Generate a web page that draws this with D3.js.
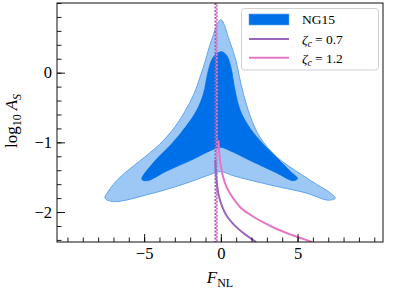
<!DOCTYPE html>
<html>
<head>
<meta charset="utf-8">
<script src="https://cdn.jsdelivr.net/npm/d3@7"></script>
<style>
  body { margin: 0; background: #fff; }
  svg text { font-family: "Liberation Serif", "DejaVu Serif", serif; fill: #000; }
</style>
</head>
<body>
<div id="chart"></div>
<script>
"use strict";

/*** Data */
/* outer (95%) NG15 region, [F_NL, log10 A_S], clockwise from the top */
const outerF = [0.0, 0.56, 0.98, 1.2, 1.47, 1.91, 2.56, 3.65, 5.17, 6.3, 7.1, 7.46, 7.0, 5.61, 3.0, 0.82, 0.0, -0.91, -2.44, -4.61, -7.0, -7.55, -7.33, -6.57, -5.3, -4.0, -3.0, -2.3, -1.74, -1.35, -1.0, -0.62];
const outerA = [0.76, 0.46, 0.18, -0.05, -0.30, -0.62, -0.93, -1.21, -1.45, -1.61, -1.72, -1.80, -1.83, -1.73, -1.60, -1.48, -1.42, -1.48, -1.60, -1.74, -1.85, -1.80, -1.70, -1.50, -1.27, -1.03, -0.78, -0.54, -0.30, -0.06, 0.18, 0.46];

/* inner (68%) NG15 region */
const innerF = [0.07, 0.4, 0.65, 0.93, 1.26, 1.91, 2.78, 3.87, 4.6, 5.0, 4.7, 3.65, 1.91, 0.61, -0.05, -0.70, -1.79, -3.52, -4.8, -5.15, -4.35, -3.2, -2.3, -1.57, -1.13, -0.85, -0.6, -0.3];
const innerA = [0.30, 0.24, 0.08, -0.26, -0.54, -0.80, -1.03, -1.27, -1.43, -1.52, -1.55, -1.44, -1.26, -1.12, -1.07, -1.12, -1.24, -1.41, -1.55, -1.53, -1.28, -1.02, -0.78, -0.54, -0.30, 0.0, 0.18, 0.27];

/* zeta_c = 0.7 */
const purpleF = [-0.36, -0.3, -0.15, 0.1, 0.4, 0.85, 1.4, 2.3];
const purpleA = [-1.25, -1.5, -1.75, -1.93, -2.06, -2.18, -2.29, -2.43];

/* zeta_c = 1.2 */
const pinkF = [-0.16, -0.1, -0.02, 0.15, 0.39, 0.8, 1.26, 2.0, 2.78, 3.6, 4.52, 5.3, 5.93];
const pinkA = [-0.97, -1.15, -1.31, -1.5, -1.65, -1.8, -1.93, -2.05, -2.15, -2.24, -2.32, -2.38, -2.43];

/* vertical dotted lines */
const vlineF = [-0.35, -0.26];

/* ticks */
const xMajor = [-5, 0, 5];
const xMinor = d3.range(-10, 11, 1);
const yMajor = [-2, -1, 0];
const yMinor = d3.range(-24, 11, 2).map(d => d / 10);

const legendLabels = ["NG15", "0.7", "1.2"];

/*** Layout */
const w = 414;
const h = 290;
const mLeft = 57, mRight = 383, mTop = 3, mBottom = 242;

const colLight = "#9dc7f4";
const colEdge = "#62a5ee";
const colDark = "#0070e8";
const colPurple = "#9467bd";
const colPink = "#e377c2";

const x = d3.scaleLinear().domain([-10.68, 10.57]).range([mLeft, mRight]);
const y = d3.scaleLinear().domain([-2.43, 1.0]).range([mBottom, mTop]);

const fmt = d => (d < 0 ? "\u2212" + Math.abs(d) : String(d));

const svg = d3.select("#chart")
    .append("svg")
    .attr("width", w)
    .attr("height", h);

svg.append("defs").append("clipPath")
    .attr("id", "plotclip")
    .append("rect")
    .attr("x", mLeft).attr("y", mTop)
    .attr("width", mRight - mLeft).attr("height", mBottom - mTop);

const plot = svg.append("g").attr("clip-path", "url(#plotclip)");

const toPts = (fs, as) => fs.map((f, i) => [f, as[i]]);

const area = d3.line()
    .x(d => x(d[0]))
    .y(d => y(d[1]))
    .curve(d3.curveCatmullRomClosed.alpha(0.5));

const line = d3.line()
    .x(d => x(d[0]))
    .y(d => y(d[1]))
    .curve(d3.curveCatmullRom.alpha(0.5));

/** contours */
plot.append("path")
    .attr("d", area(toPts(outerF, outerA)))
    .attr("fill", colLight)
    .attr("stroke", colEdge)
    .attr("stroke-width", 1);

plot.append("path")
    .attr("d", area(toPts(innerF, innerA)))
    .attr("fill", colDark)
    .attr("stroke", colDark)
    .attr("stroke-width", 0.8);

/** dotted verticals */
plot.selectAll(".vline")
    .data(vlineF)
    .enter()
    .append("line")
    .attr("class", "vline")
    .attr("x1", d => x(d)).attr("x2", d => x(d))
    .attr("y1", mTop).attr("y2", mBottom)
    .attr("stroke", (d, i) => i === 0 ? colPurple : colPink)
    .attr("stroke-width", 2)
    .attr("stroke-dasharray", "2,1.5")
    .attr("stroke-dashoffset", (d, i) => i * 1.7);

/** curves */
plot.append("path")
    .attr("d", line(toPts(purpleF, purpleA)))
    .attr("fill", "none")
    .attr("stroke", colPurple)
    .attr("stroke-width", 2);

plot.append("path")
    .attr("d", line(toPts(pinkF, pinkA)))
    .attr("fill", "none")
    .attr("stroke", colPink)
    .attr("stroke-width", 2);

/** axes (ticks pointing in) */
const styleAxis = g => {
    g.select(".domain").remove();
    g.selectAll("line").attr("stroke", "#000").attr("stroke-width", 0.9);
    g.selectAll("text").style("font-size", "16.5px").attr("font-family", "Liberation Serif, serif");
};

svg.append("g")
    .attr("transform", "translate(0," + mBottom + ")")
    .call(d3.axisBottom(x).tickValues(xMinor).tickSize(-4.5).tickFormat(""))
    .call(styleAxis);

svg.append("g")
    .attr("transform", "translate(0," + mBottom + ")")
    .call(d3.axisBottom(x).tickValues(xMajor).tickSize(-8).tickPadding(5).tickFormat(fmt))
    .call(styleAxis);

svg.append("g")
    .attr("transform", "translate(" + mLeft + ",0)")
    .call(d3.axisLeft(y).tickValues(yMinor).tickSize(-4.5).tickFormat(""))
    .call(styleAxis);

svg.append("g")
    .attr("transform", "translate(" + mLeft + ",0)")
    .call(d3.axisLeft(y).tickValues(yMajor).tickSize(-8).tickPadding(5).tickFormat(fmt))
    .call(styleAxis);

/** frame */
svg.append("rect")
    .attr("x", mLeft).attr("y", mTop)
    .attr("width", mRight - mLeft).attr("height", mBottom - mTop)
    .attr("fill", "none")
    .attr("stroke", "#111")
    .attr("stroke-width", 1);

/** axis labels */
const xl = svg.append("text")
    .attr("x", 220).attr("y", 283)
    .attr("text-anchor", "middle")
    .style("font-size", "17px");
xl.append("tspan").attr("font-style", "italic").text("F");
xl.append("tspan").attr("dy", 4).style("font-size", "12px").text("NL");

const yl = svg.append("text")
    .attr("transform", "translate(17,121) rotate(-90)")
    .attr("text-anchor", "middle")
    .style("font-size", "17px");
yl.append("tspan").text("log");
yl.append("tspan").attr("dy", 4).style("font-size", "12px").text("10");
yl.append("tspan").attr("dy", -4).attr("dx", 4).attr("font-style", "italic").text("A");
yl.append("tspan").attr("dy", 4).style("font-size", "12px").attr("font-style", "italic").text("S");

/** legend */
const lg = svg.append("g");
lg.append("rect")
    .attr("x", 241.5).attr("y", 8.5)
    .attr("width", 137).attr("height", 61.5)
    .attr("rx", 3)
    .attr("fill", "#fff").attr("fill-opacity", 0.85)
    .attr("stroke", "#d0d0d0").attr("stroke-width", 1);

lg.append("rect")
    .attr("x", 249).attr("y", 14)
    .attr("width", 40).attr("height", 11)
    .attr("fill", colDark)
    .attr("stroke", colEdge).attr("stroke-width", 0.6);

lg.append("text")
    .attr("x", 302).attr("y", 24)
    .style("font-size", "13.5px")
    .text(legendLabels[0]);

[[colPurple, 39, 44.3, legendLabels[1]], [colPink, 57.7, 63, legendLabels[2]]].forEach(d => {
    lg.append("line")
        .attr("x1", 249).attr("x2", 289)
        .attr("y1", d[1]).attr("y2", d[1])
        .attr("stroke", d[0]).attr("stroke-width", 2);
    const t = lg.append("text")
        .attr("x", 302).attr("y", d[2])
        .style("font-size", "13.5px");
    t.append("tspan").attr("font-style", "italic").text("\u03B6");
    t.append("tspan").attr("dy", 3).attr("font-style", "italic").style("font-size", "10px").text("c");
    t.append("tspan").attr("dy", -3).attr("dx", 3).text("= " + d[3]);
});
</script>
</body>
</html>
